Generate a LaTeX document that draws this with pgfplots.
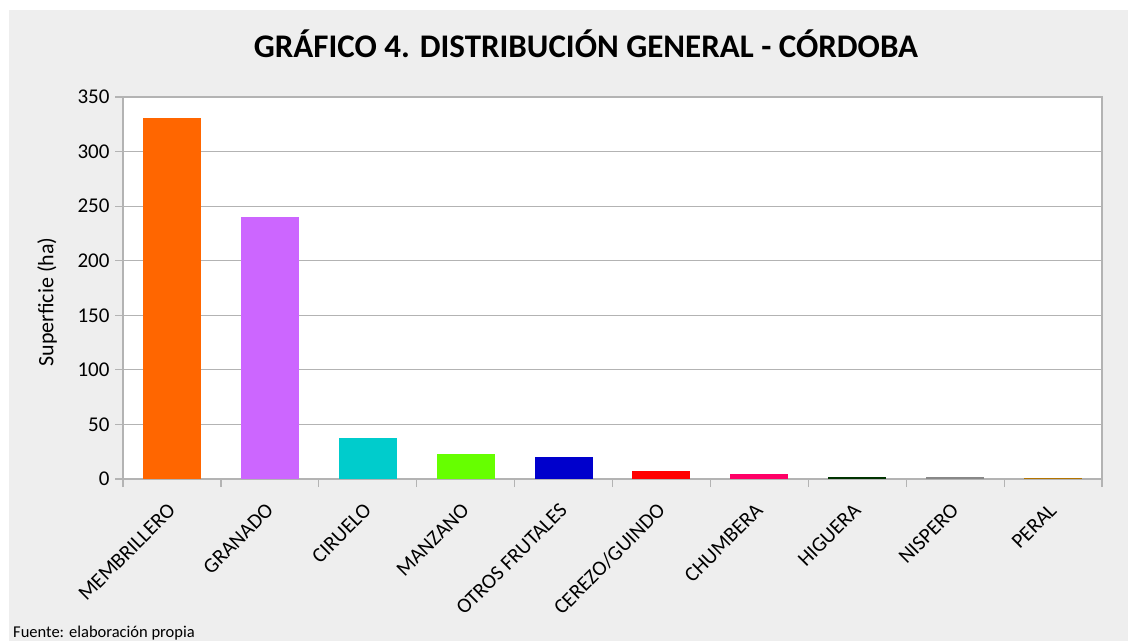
\documentclass[border=0pt]{standalone}
\usepackage{fontspec}
\setmainfont{Carlito}
\usepackage{pgfplots}
\pgfplotsset{compat=1.18}
\definecolor{bg}{HTML}{EEEEEE}
\definecolor{linegray}{HTML}{B3B3B3}
\definecolor{cMemb}{HTML}{FF6600}
\definecolor{cGran}{HTML}{CC66FF}
\definecolor{cCiru}{HTML}{00CCCC}
\definecolor{cManz}{HTML}{66FF00}
\definecolor{cOtro}{HTML}{0000CC}
\definecolor{cCere}{HTML}{FF0000}
\definecolor{cChum}{HTML}{FF0066}
\definecolor{cHigu}{HTML}{003300}
\definecolor{cNisp}{HTML}{888888}
\definecolor{cPera}{HTML}{B37400}

\begin{document}
\begin{tikzpicture}
\useasboundingbox (0pt,0pt) rectangle (1128pt,-641pt);
\fill[white] (0pt,0pt) rectangle (1128pt,-641pt);
\fill[bg] (9pt,-10pt) rectangle (1128pt,-641pt);

\begin{axis}[
  at={(123pt,-479pt)}, anchor=south west,
  scale only axis, width=979pt, height=382pt,
  xmin=0, xmax=10, ymin=0, ymax=350,
  ytick={0,50,...,350},
  xtick={0,...,10}, xticklabels={},
  tick pos=left, tick align=outside, major tick length=8pt,
  tick style={linegray, line width=1.2pt},
  ymajorgrids, major grid style={linegray, line width=1pt},
  axis line style={linegray, line width=1.5pt},
  axis background/.style={fill=white},
  /pgf/number format/assume math mode=true,
  yticklabel style={font=\fontsize{21}{24}\selectfont, xshift=-2pt},
  extra x ticks={0.5,1.5,...,9.5},
  extra x tick labels={MEMBRILLERO,GRANADO,CIRUELO,MANZANO,OTROS FRUTALES,CEREZO/GUINDO,CHUMBERA,HIGUERA,NISPERO,PERAL},
  extra x tick style={major tick length=0pt,
    xticklabel style={font=\fontsize{21}{24}\selectfont, inner sep=0pt, xshift=0pt, yshift=-28pt, rotate=45, anchor=east}},
  bar shift=0pt, bar width=58pt,
]
\addplot[ybar, fill=cMemb, draw=none] coordinates {(0.5,331)};
\addplot[ybar, fill=cGran, draw=none] coordinates {(1.5,240)};
\addplot[ybar, fill=cCiru, draw=none] coordinates {(2.5,38)};
\addplot[ybar, fill=cManz, draw=none] coordinates {(3.5,23)};
\addplot[ybar, fill=cOtro, draw=none] coordinates {(4.5,20)};
\addplot[ybar, fill=cCere, draw=none] coordinates {(5.5,7.5)};
\addplot[ybar, fill=cChum, draw=none] coordinates {(6.5,4.5)};
\addplot[ybar, fill=cHigu, draw=none] coordinates {(7.5,2)};
\addplot[ybar, fill=cNisp, draw=none] coordinates {(8.5,2)};
\addplot[ybar, fill=cPera, draw=none] coordinates {(9.5,1)};
\end{axis}

\node[font=\bfseries\fontsize{33}{38}\selectfont] at (586pt,-44pt) {GRÁFICO 4. DISTRIBUCIÓN GENERAL - CÓRDOBA};
\node[rotate=90, font=\fontsize{22}{26}\selectfont] at (47pt,-302pt) {Superficie (ha)};
\node[anchor=base west, font=\fontsize{16.5}{20}\selectfont, inner sep=0pt] at (13pt,-637pt) {Fuente: elaboración propia};
\end{tikzpicture}
\end{document}
